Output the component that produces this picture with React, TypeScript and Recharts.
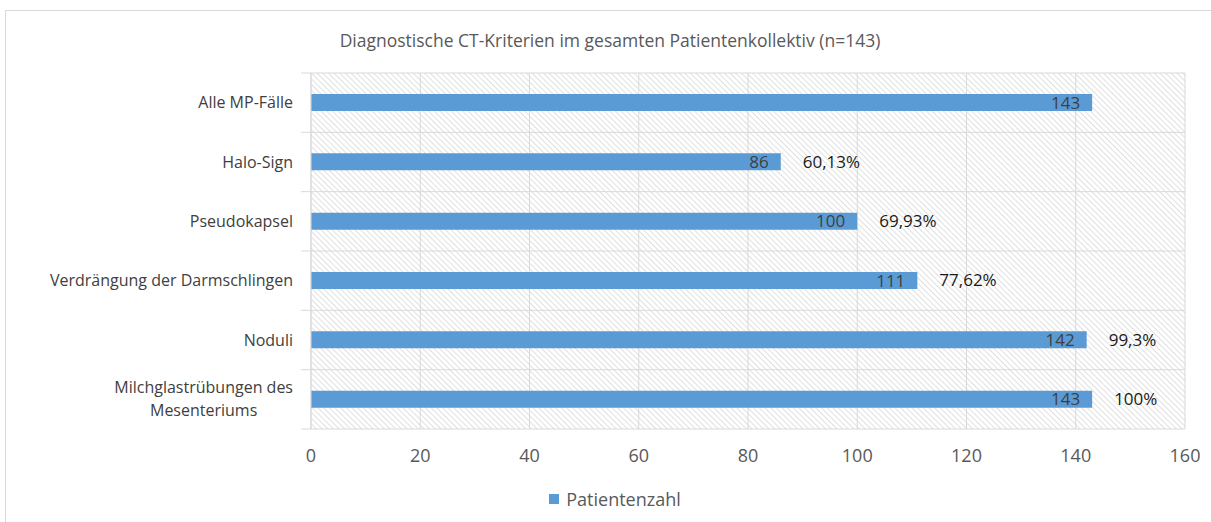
import React from "react";
import { BarChart, Bar, XAxis, YAxis, CartesianGrid, LabelList, Legend } from "recharts";

const categories = [
  "Alle MP-Fälle",
  "Halo-Sign",
  "Pseudokapsel",
  "Verdrängung der Darmschlingen",
  "Noduli",
  "Milchglastrübungen des Mesenteriums",
];
const patientCounts = [143, 86, 100, 111, 142, 143];
const percentLabels = ["", "60,13%", "69,93%", "77,62%", "99,3%", "100%"];
const xTicks = [0, 20, 40, 60, 80, 100, 120, 140, 160];
const seriesName = "Patientenzahl";
const title = "Diagnostische CT-Kriterien im gesamten Patientenkollektiv (n=143)";

const data = categories.map((name, i) => ({
  name,
  value: patientCounts[i],
  pct: percentLabels[i],
}));

const W = 1211;
const H = 522;
const M = { top: 73, right: 26, bottom: 50, left: 0 };
const XAXIS_H = 43;
const YAXIS_W = 311;
const PLOT_H = H - M.top - M.bottom - XAXIS_H;
const FONT = "'Open Sans', sans-serif";
const BLUE = "#5B9BD5";
const GRID = "#d9d9d9";

let ctx: CanvasRenderingContext2D | null = null;
function measure(t: string, size: number) {
  if (!ctx) ctx = document.createElement("canvas").getContext("2d");
  if (!ctx) return t.length * size * 0.5;
  ctx.font = `${size}px 'Open Sans'`;
  return ctx.measureText(t).width;
}

function wrap(t: string, maxChars: number) {
  const words = t.split(" ");
  const lines: string[] = [];
  let cur = "";
  for (const w of words) {
    const next = cur ? cur + " " + w : w;
    if (next.length > maxChars && cur) {
      lines.push(cur);
      cur = w;
    } else cur = next;
  }
  if (cur) lines.push(cur);
  return lines;
}

const CatTick = (props: any) => {
  const { x, y, payload, index } = props;
  const fs = 16;
  const lines = wrap(String(payload.value), 30);
  const half = PLOT_H / categories.length / 2;
  const lineH = 23;
  const maxW = Math.max(...lines.map((l) => measure(l, fs)));
  const cx = x - maxW / 2;
  return (
    <g>
      <line x1={x + 8} x2={x + 18} y1={y - half} y2={y - half} stroke={GRID} />
      {index === categories.length - 1 && (
        <line x1={x + 8} x2={x + 18} y1={y + half} y2={y + half} stroke={GRID} />
      )}
      {lines.length === 1 ? (
        <text x={x} y={y} dy="0.35em" textAnchor="end" fontSize={fs} fill="#404040" fontFamily={FONT}>
          {lines[0]}
        </text>
      ) : (
        lines.map((l, i) => (
          <text
            key={i}
            x={cx}
            y={y + (i - (lines.length - 1) / 2) * lineH}
            dy="0.35em"
            textAnchor="middle"
            fontSize={fs}
            fill="#404040"
            fontFamily={FONT}
          >
            {l}
          </text>
        ))
      )}
    </g>
  );
};

const PctLabel = (props: any) => {
  const { x, y, width, height, index } = props;
  const t = percentLabels[index];
  if (!t) return null;
  return (
    <text
      x={x + width + 22}
      y={y + height / 2}
      dy="0.35em"
      fontSize={17}
      fill="#1a1a1a"
      fontFamily={FONT}
    >
      {t}
    </text>
  );
};

const LegendContent = () => (
  <div style={{ display: "flex", justifyContent: "center", alignItems: "center", fontFamily: FONT }}>
    <span style={{ width: 10, height: 10, background: BLUE, display: "inline-block", marginRight: 7 }} />
    <span style={{ fontSize: 18, color: "#595959" }}>{seriesName}</span>
  </div>
);

export default function App() {
  return (
    <div
      style={{
        position: "absolute",
        left: 0,
        top: 0,
        width: W,
        height: H,
        overflow: "hidden",
        background: "#fff",
        fontFamily: FONT,
      }}
    >
      <div
        style={{
          position: "absolute",
          left: 5,
          top: 10,
          width: 1300,
          height: 600,
          border: "1px solid #d9d9d9",
          boxSizing: "border-box",
        }}
      />
      <div
        style={{
          position: "absolute",
          top: 27,
          left: 0,
          width: 1220,
          textAlign: "center",
          fontSize: 17.5,
          color: "#595959",
          lineHeight: "26px",
        }}
      >
        {title}
      </div>
      <div style={{ position: "absolute", left: 0, top: 0 }}>
        <BarChart width={W} height={H} data={data} layout="vertical" margin={M} barSize={17}>
          <defs>
            <pattern
              id="hatch"
              width="4"
              height="4"
              patternUnits="userSpaceOnUse"
              patternTransform="rotate(-45)"
            >
              <rect width="4" height="4" fill="#ffffff" />
              <line x1="0" y1="0" x2="0" y2="4" stroke="#d3d3d3" strokeWidth="1.4" />
            </pattern>
          </defs>
          <CartesianGrid
            stroke={GRID}
            fill="url(#hatch)"
            fillOpacity={1}
            horizontalCoordinatesGenerator={(p: any) => {
              const top = p?.offset?.top ?? M.top;
              const h = p?.offset?.height ?? PLOT_H;
              return categories.map((_, i) => top + (i * h) / categories.length).concat([top + h]);
            }}
          />
          <XAxis
            type="number"
            domain={[0, 160]}
            ticks={xTicks}
            interval={0}
            height={XAXIS_H}
            axisLine={false}
            tickLine={false}
            tickSize={0}
            tickMargin={20}
            tick={{ fontSize: 18, fill: "#595959", fontFamily: FONT }}
          />
          <YAxis
            type="category"
            dataKey="name"
            width={YAXIS_W}
            interval={0}
            tickLine={false}
            tickSize={0}
            tickMargin={18}
            axisLine={{ stroke: GRID }}
            tick={<CatTick />}
          />
          <Legend
            verticalAlign="middle"
            align="center"
            content={<LegendContent />}
            wrapperStyle={{ top: 487, left: 0, width: 1230 }}
          />
          <Bar dataKey="value" name={seriesName} fill={BLUE} isAnimationActive={false}>
            <LabelList
              dataKey="value"
              position="insideRight"
              offset={12}
              fill="#404040"
              fontSize={17}
              fontFamily={FONT}
            />
            <LabelList dataKey="pct" content={<PctLabel />} />
          </Bar>
        </BarChart>
      </div>
    </div>
  );
}
